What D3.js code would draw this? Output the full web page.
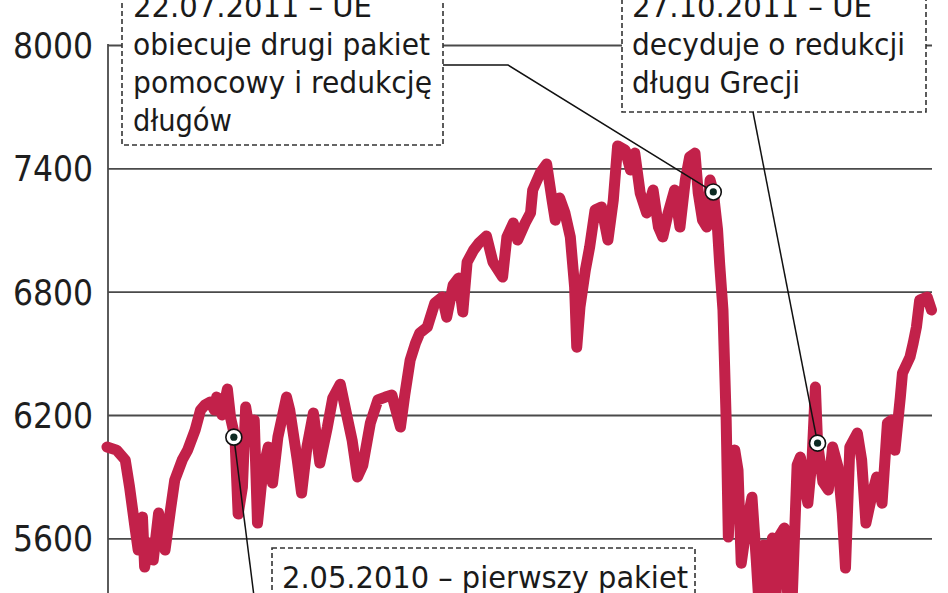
<!DOCTYPE html>
<html><head><meta charset="utf-8">
<script src="https://cdn.jsdelivr.net/npm/d3@7"></script>
<style>html,body{margin:0;padding:0;background:#fff;overflow:hidden}</style>
</head><body><svg id="c" width="948" height="593" xmlns="http://www.w3.org/2000/svg"></svg>
<script>
// ---- data (DAX-like index) ----
const dates = [
"2010-01-04","2010-01-13","2010-01-21","2010-01-25","2010-01-30","2010-02-02","2010-02-06","2010-02-08","2010-02-12","2010-02-16",
"2010-02-21","2010-02-27","2010-03-04","2010-03-08","2010-03-15","2010-03-20","2010-03-27","2010-04-01","2010-04-05","2010-04-10",
"2010-04-14","2010-04-16","2010-04-21","2010-04-26","2010-04-29","2010-05-03","2010-05-06","2010-05-10","2010-05-13","2010-05-18",
"2010-05-21","2010-05-24","2010-05-29","2010-06-03","2010-06-07","2010-06-12","2010-06-20","2010-06-23","2010-06-30","2010-07-04",
"2010-07-09","2010-07-15","2010-07-21","2010-07-28","2010-08-02","2010-08-09","2010-08-15","2010-08-20","2010-08-25","2010-08-30",
"2010-09-06","2010-09-13","2010-09-20","2010-09-26","2010-10-04","2010-10-08","2010-10-13","2010-10-18","2010-10-22","2010-10-29",
"2010-11-05","2010-11-12","2010-11-16","2010-11-22","2010-11-27","2010-12-01","2010-12-05","2010-12-11","2010-12-16","2010-12-23",
"2010-12-29","2011-01-07","2011-01-11","2011-01-17","2011-01-21","2011-01-28","2011-02-02","2011-02-04","2011-02-11","2011-02-17",
"2011-02-22","2011-02-25","2011-03-01","2011-03-06","2011-03-11","2011-03-15","2011-03-17","2011-03-20","2011-03-25","2011-03-29",
"2011-04-03","2011-04-09","2011-04-15","2011-04-20","2011-04-24","2011-05-01","2011-05-06","2011-05-10","2011-05-15","2011-05-21",
"2011-05-27","2011-06-01","2011-06-05","2011-06-10","2011-06-16","2011-06-21","2011-06-26","2011-06-30","2011-07-05","2011-07-08",
"2011-07-12","2011-07-16","2011-07-19","2011-07-22","2011-07-26","2011-07-28","2011-07-31","2011-08-03","2011-08-05","2011-08-07",
"2011-08-11","2011-08-14","2011-08-17","2011-08-22","2011-08-27","2011-08-31","2011-09-04","2011-09-07","2011-09-11","2011-09-15",
"2011-09-18","2011-09-22","2011-09-26","2011-09-29","2011-10-02","2011-10-08","2011-10-11","2011-10-15","2011-10-18","2011-10-22",
"2011-10-25","2011-10-27","2011-11-01","2011-11-06","2011-11-10","2011-11-15","2011-11-19","2011-11-22","2011-11-26","2011-12-03",
"2011-12-07","2011-12-11","2011-12-17","2011-12-21","2011-12-26","2011-12-31","2012-01-04","2012-01-07","2012-01-12","2012-01-14",
"2012-01-21","2012-01-24","2012-01-27","2012-01-30","2012-02-06","2012-02-10"
];
const values = [
6044,6029,5981,5849,5655,5543,5703,5460,5577,5494,
5723,5543,5737,5883,5981,6029,6127,6224,6248,6263,
6224,6287,6200,6326,6185,6093,5718,5849,6239,6078,
6175,5674,5932,6044,5869,6093,6287,6224,5981,5820,
6044,6209,5966,6141,6282,6350,6200,6078,5898,5956,
6161,6273,6287,6297,6141,6297,6467,6550,6599,6628,
6745,6774,6676,6832,6866,6701,6944,7002,7037,7071,
6944,6871,7066,7134,7051,7134,7183,7294,7377,7421,
7246,7148,7256,7183,7066,6822,6530,6725,6905,7017,
7197,7212,7051,7246,7509,7489,7392,7474,7280,7183,
7294,7114,7066,7183,7294,7114,7343,7455,7474,7280,
7148,7114,7343,7285,7100,6930,6711,6175,5606,5883,
6029,5932,5479,5664,5800,5494,5153,5567,5299,5601,
5299,5616,5650,5348,5105,5956,5995,5849,5771,5995,
6336,6063,5874,5835,6044,5947,5723,5455,6044,6112,
5981,5674,5820,5898,5771,6161,6175,6029,6287,6404,
6482,6550,6628,6759,6774,6711
];
const yTicks = [5600, 6200, 6800, 7400, 8000];
const annoDates = ["2010-05-02", "2011-07-22", "2011-10-27"];
const annoValues = [6092, 7285, 6063];
const annoTexts = [
  ["2.05.2010 – pierwszy pakiet"],
  ["22.07.2011 – UE", "obiecuje drugi pakiet", "pomocowy i redukcję", "długów"],
  ["27.10.2011 – UE", "decyduje o redukcji", "długu Grecji"]
];

// ---- chart ----
const parse = d3.timeParse("%Y-%m-%d");
const data = dates.map((d, i) => ({date: parse(d), value: values[i]}));
const svg = d3.select("#c");
svg.append("rect").attr("width", 948).attr("height", 593).attr("fill", "#fff");

const x = d3.scaleTime().domain([parse("2010-01-04"), parse("2012-02-10")]).range([107, 931.5]);
const y = d3.scaleLinear().domain([5600, 8000]).range([538.3, 45]);

const axisX = 108, rightX = 932;
const axis = d3.axisLeft(y).tickValues(yTicks).tickSize(-(rightX - axisX)).tickPadding(15).tickFormat(d3.format("d"));
const ga = svg.append("g").attr("transform", `translate(${axisX},0)`).call(axis);
ga.select(".domain").remove();
ga.selectAll(".tick line").attr("stroke", "#4a4a4a").attr("stroke-width", 1.8);
ga.selectAll(".tick text")
  .attr("font-family", "'Liberation Sans Narrow', 'DejaVu Sans Condensed', sans-serif")
  .attr("font-size", 35).attr("fill", "#1e1e1e").attr("dy", "0.36em");

svg.append("line").attr("x1", axisX).attr("x2", axisX).attr("y1", y(8000) - 1).attr("y2", 593)
  .attr("stroke", "#4a4a4a").attr("stroke-width", 1.8);

const line = d3.line().x(d => x(d.date)).y(d => y(d.value));
svg.append("path").datum(data).attr("d", line)
  .attr("fill", "none").attr("stroke", "#c2214a").attr("stroke-width", 11)
  .attr("stroke-linejoin", "round").attr("stroke-linecap", "round");

// annotation boxes
const boxes = [
  {x: 272, y: 548, w: 423, h: 70, tx: 282, base: [588], lens: [406]},
  {x: 122, y: -20, w: 321, h: 165, tx: 133, base: [17, 55, 93, 131], lens: [239, 297, 299, 99]},
  {x: 622, y: -20, w: 304, h: 132, tx: 632, base: [17, 55, 93], lens: [240, 273, 168]}
];
boxes.forEach((b, i) => {
  svg.append("rect").attr("x", b.x).attr("y", b.y).attr("width", b.w).attr("height", b.h)
    .attr("fill", "#fff").attr("stroke", "#333").attr("stroke-width", 1.6).attr("stroke-dasharray", "5,3");
  annoTexts[i].forEach((t, j) => {
    svg.append("text").attr("x", b.tx).attr("y", b.base[j]).text(t)
      .attr("font-family", "'DejaVu Sans Condensed', 'DejaVu Sans', sans-serif")
      .attr("font-stretch", "condensed")
      .attr("font-size", 30).attr("fill", "#1a1a1a")
      .attr("textLength", b.lens[j]).attr("lengthAdjust", "spacingAndGlyphs");
  });
});

// leaders
const mk = annoDates.map((d, i) => [x(parse(d)), y(annoValues[i])]);
const leaders = [
  [[mk[0][0], mk[0][1]], [256, 612]],
  [[443, 65], [508, 65], [mk[1][0], mk[1][1]]],
  [[753, 112], [mk[2][0], mk[2][1]]]
];
leaders.forEach(p => {
  svg.append("path").attr("d", d3.line()(p)).attr("fill", "none").attr("stroke", "#111").attr("stroke-width", 1.5);
});

// markers
mk.forEach(p => {
  svg.append("circle").attr("cx", p[0]).attr("cy", p[1]).attr("r", 8)
    .attr("fill", "#fff").attr("stroke", "#111").attr("stroke-width", 1.6);
  svg.append("circle").attr("cx", p[0]).attr("cy", p[1]).attr("r", 3.6).attr("fill", "#0d2a22");
});
</script>
</body></html>
